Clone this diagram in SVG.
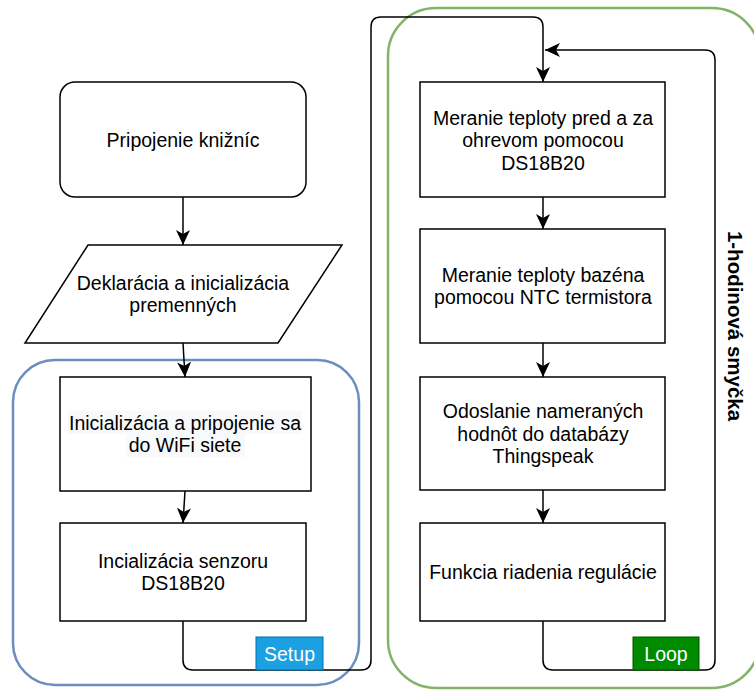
<svg xmlns="http://www.w3.org/2000/svg" width="754" height="690" viewBox="0 0 754 690">
<style>
text{font-family:"Liberation Sans",Arial,sans-serif;font-size:19.5px;fill:#000;text-anchor:middle}
.node{fill:#fff;stroke:#000;stroke-width:1.5}
.edge{fill:none;stroke:#000;stroke-width:1.5}
.lbl{fill:#fff}
</style>
<defs>
<marker id="arr" markerUnits="userSpaceOnUse" markerWidth="18" markerHeight="16" refX="15" refY="7" orient="auto">
<path d="M0,0 L15,7 L0,14 L4,7 z" fill="#000"/>
</marker>
</defs>
<rect width="754" height="690" fill="#fff"/>
<g id="containers">
<rect id="setup-container" x="13" y="360" width="346" height="325" rx="42" fill="none" stroke="#6c8ebf" stroke-width="2.5"/>
<rect id="loop-container" x="388" y="8" width="372" height="680" rx="48" fill="none" stroke="#82b366" stroke-width="2.5"/>
</g>
<g id="connectors">
<path class="edge" d="M183,197 L183,245" marker-end="url(#arr)"/>
<path class="edge" d="M183,343 L185,377" marker-end="url(#arr)"/>
<path class="edge" d="M185,491 L183,523" marker-end="url(#arr)"/>
<path class="edge" d="M183,621 L183,660 Q183,670 193,670 L361,670 Q371,670 371,660 L371,27 Q371,17 381,17 L533,17 Q543,17 543,27 L543,82" marker-end="url(#arr)"/>
<path class="edge" d="M543,197 L543,229" marker-end="url(#arr)"/>
<path class="edge" d="M543,343 L543,377" marker-end="url(#arr)"/>
<path class="edge" d="M543,490 L543,523" marker-end="url(#arr)"/>
<path class="edge" d="M543,621 L543,660 Q543,670 553,670 L705,670 Q715,670 715,660 L715,60 Q715,50 705,50 L545,50" marker-end="url(#arr)"/>
</g>
<g id="n-kniznice">
<rect class="node" x="60" y="82" width="246" height="115" rx="15"/>
<text x="183" y="146.5">Pripojenie knižníc</text>
</g>
<g id="n-deklaracia">
<polygon class="node" points="88,245 342,245 278,343 25,343"/>
<text x="183" y="290">Deklarácia a inicializácia</text>
<text x="183" y="312">premenných</text>
</g>
<g id="n-wifi">
<rect class="node" x="60" y="377" width="251" height="114"/>
<rect x="68" y="411" width="234" height="23" fill="#f8f9fa"/>
<rect x="126" y="434" width="119" height="23" fill="#f8f9fa"/>
<text x="185" y="430">Inicializácia a pripojenie sa</text>
<text x="185" y="452">do WiFi siete</text>
</g>
<g id="n-senzor">
<rect class="node" x="60" y="523" width="246" height="98"/>
<text x="183" y="568">Incializácia senzoru</text>
<text x="183" y="590">DS18B20</text>
</g>
<g id="n-meranie1">
<rect class="node" x="420" y="82" width="245" height="115"/>
<text x="543" y="124.5">Meranie teploty pred a za</text>
<text x="543" y="147">ohrevom pomocou</text>
<text x="543" y="169.5">DS18B20</text>
</g>
<g id="n-meranie2">
<rect class="node" x="420" y="229" width="245" height="114"/>
<text x="543" y="282">Meranie teploty bazéna</text>
<text x="543" y="304">pomocou NTC termistora</text>
</g>
<g id="n-odoslanie">
<rect class="node" x="420" y="377" width="245" height="113"/>
<text x="543" y="418">Odoslanie nameraných</text>
<text x="543" y="440.5">hodnôt do databázy</text>
<text x="543" y="463">Thingspeak</text>
</g>
<g id="n-funkcia">
<rect class="node" x="420" y="523" width="245" height="98"/>
<text x="543" y="579">Funkcia riadenia regulácie</text>
</g>
<g id="setup-label">
<rect x="256" y="637" width="67" height="33" fill="#1ba1e2" stroke="#006eaf" stroke-width="1"/>
<text class="lbl" x="289.5" y="660.5">Setup</text>
</g>
<g id="loop-label">
<rect x="633" y="637" width="66" height="33" fill="#008a00" stroke="#005700" stroke-width="1"/>
<text class="lbl" x="666" y="660.5">Loop</text>
</g>
<g id="loop-title">
<text transform="translate(728,326) rotate(90)" x="0" y="0" style="font-weight:bold;font-size:20.5px">1-hodinová smyčka</text>
</g>
</svg>
